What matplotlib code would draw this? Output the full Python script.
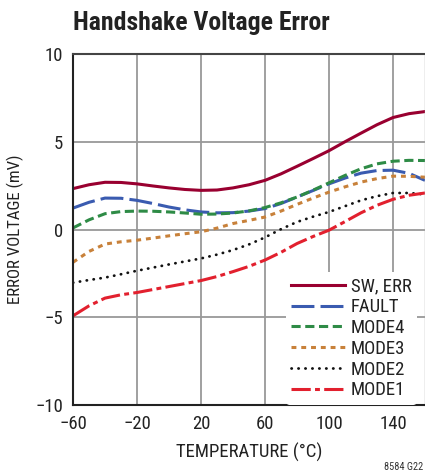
import matplotlib
matplotlib.use('Agg')
import matplotlib.pyplot as plt
import logging
logging.getLogger('matplotlib.font_manager').setLevel(logging.ERROR)

FONT = ['Roboto Condensed', 'Liberation Sans Narrow', 'Arial Narrow',
        'Liberation Sans', 'DejaVu Sans']
plt.rcParams['font.family'] = FONT
plt.rcParams['font.stretch'] = 'condensed'

temps = [-60, -50, -40, -30, -20, -10, 0, 10, 20, 30, 40, 50, 60,
         70, 80, 90, 100, 110, 120, 130, 140, 150, 160]

sw_err = [2.33, 2.55, 2.69, 2.68, 2.60, 2.48, 2.37, 2.28, 2.23, 2.25, 2.37, 2.55,
          2.80, 3.17, 3.60, 4.04, 4.49, 5.00, 5.49, 5.97, 6.38, 6.60, 6.72]
fault = [1.22, 1.55, 1.79, 1.78, 1.66, 1.48, 1.28, 1.12, 1.00, 0.95, 0.96, 1.05,
         1.19, 1.48, 1.85, 2.22, 2.60, 2.93, 3.21, 3.36, 3.38, 3.20, 2.80]
mode4 = [0.09, 0.55, 0.90, 1.02, 1.05, 1.04, 1.00, 0.94, 0.87, 0.88, 0.94, 1.06,
         1.25, 1.52, 1.85, 2.24, 2.66, 3.08, 3.46, 3.74, 3.89, 3.94, 3.93]
mode3 = [-1.87, -1.25, -0.83, -0.70, -0.61, -0.49, -0.36, -0.24, -0.13, 0.08, 0.34, 0.52,
         0.71, 1.05, 1.43, 1.79, 2.13, 2.43, 2.70, 2.90, 3.04, 3.03, 2.98]
mode2 = [-3.03, -2.88, -2.74, -2.55, -2.35, -2.17, -1.99, -1.82, -1.65, -1.43, -1.17, -0.85,
         -0.45, 0.02, 0.43, 0.73, 1.00, 1.33, 1.66, 1.90, 2.08, 2.08, 2.00]
mode1 = [-4.92, -4.35, -3.91, -3.72, -3.59, -3.42, -3.25, -3.08, -2.91, -2.68, -2.40, -2.10,
         -1.74, -1.30, -0.80, -0.40, -0.04, 0.45, 0.95, 1.38, 1.72, 1.95, 2.08]

x_ticks = [-60, -20, 20, 60, 100, 140]
y_ticks = [-10, -5, 0, 5, 10]

fig = plt.figure(figsize=(4.25, 4.73), dpi=100)
ax = fig.add_axes([73 / 425, 1 - 405 / 473, 1 - 73 / 425, (405 - 54) / 473])

ax.set_xlim(-60, 160)
ax.set_ylim(-10, 10)

lw = 2.2
ax.plot(temps, sw_err, color='#990030', lw=lw, label='SW, ERR')
ax.plot(temps, fault, color='#3a5bb0', lw=lw, ls=(0, (7.5, 2)), label='FAULT')
ax.plot(temps, mode4, color='#2e8b46', lw=lw, ls=(0, (3, 1.5)), label='MODE4')
ax.plot(temps, mode3, color='#c8813a', lw=lw, ls=(0, (1.6, 1.6)), label='MODE3')
ax.plot(temps, mode2, color='#111111', lw=2.0, ls=(0, (0.1, 2.4)),
        dash_capstyle='round', label='MODE2')
ax.plot(temps, mode1, color='#e2202e', lw=lw, ls=(0, (6.3, 1.4, 1.6, 1.4)), label='MODE1')

ax.set_xticks(x_ticks)
ax.set_yticks(y_ticks)
ax.set_xticklabels([str(t).replace('-', '\u2212') for t in x_ticks])
ax.set_yticklabels([str(t).replace('-', '\u2212') for t in y_ticks])
ax.tick_params(length=0, labelsize=13.5, colors='#222222', pad=7)
ax.grid(True, color='#999999', lw=1.3)
ax.set_axisbelow(True)

for side in ['left', 'bottom']:
    ax.spines[side].set_color('#222222')
    ax.spines[side].set_linewidth(1.5)
ax.spines['top'].set_color('#444444')
ax.spines['top'].set_linewidth(1.5)
ax.spines['right'].set_color('#aaaaaa')
ax.spines['right'].set_linewidth(1.0)

ax.set_xlabel('TEMPERATURE (\u00b0C)', fontsize=13.5, color='#222222', labelpad=7)
ax.set_ylabel('ERROR VOLTAGE (mV)', fontsize=12.2, color='#222222', labelpad=8)

leg = ax.legend(loc='lower right', bbox_to_anchor=(0.977, 0.0), fontsize=13.5,
                frameon=True, handlelength=2.85, handletextpad=0.3,
                labelspacing=0.15, borderpad=0.3, borderaxespad=0.0)
leg.get_frame().set_facecolor('white')
leg.get_frame().set_edgecolor('none')
leg.get_frame().set_alpha(1.0)
for t in leg.get_texts():
    t.set_color('#222222')

fig.text(73 / 425, 1 - 23 / 473, 'Handshake Voltage Error', fontsize=18.5,
         fontweight='bold', color='#222222', ha='left', va='center')
fig.text(0.995, 1 - 467 / 473, '8584 G22', fontsize=7.5, color='#333333',
         ha='right', va='center')

fig.savefig('out.png', dpi=100, facecolor='white')
